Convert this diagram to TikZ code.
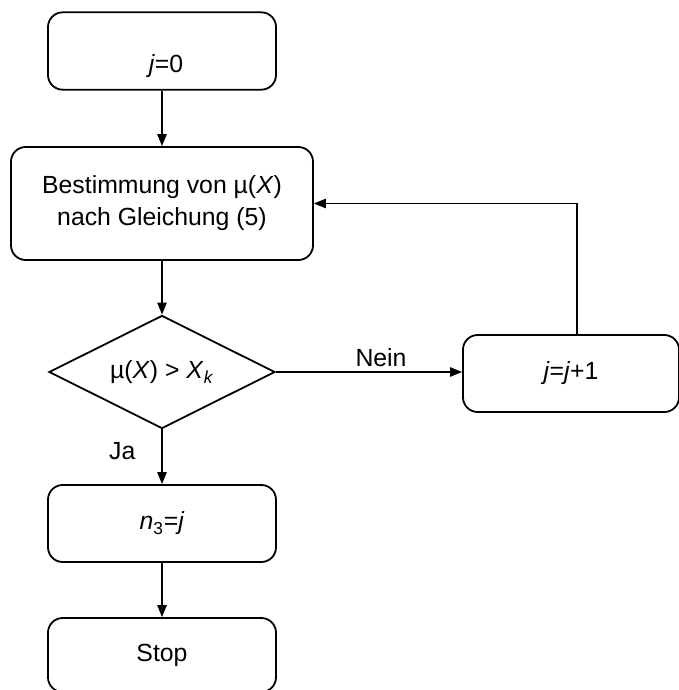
\documentclass[tikz,border=0pt]{standalone}
\usepackage{fontspec}
\setmainfont{Liberation Sans}
\usetikzlibrary{shapes.geometric,arrows.meta,positioning}
\tikzset{
  blk/.style={draw, rounded corners=11pt, line width=1.35pt, align=center, inner sep=0pt, minimum width=171pt, minimum height=58pt},
  dec/.style={draw, diamond, line width=1.35pt, inner sep=0pt, minimum width=169.5pt, minimum height=84.75pt},
  arr/.style={line width=1.2pt, -{Triangle[length=9pt,width=7pt]}},
  lbl/.style={inner sep=0pt}
}

\begin{document}
\begin{tikzpicture}[x=0.75pt,y=-0.75pt,font=\fontsize{18.6}{24}\selectfont]
  \useasboundingbox (0,0) rectangle (679,690);
  \node[blk, text height=32pt, text depth=0pt] (start) at (162,51) {\hspace{6pt}\textit{j}=0};
		\node[blk, minimum width=226.5pt, minimum height=84.75pt] (calc) at (162,203.5) {Bestimmung von µ(\textit{X})\\nach Gleichung (5)};
		\node[dec] (test) at (162,372) {\makebox[0pt]{µ(\textit{X}) > \textit{X}\textsubscript{\textit{k}}}};
		\node[blk, minimum width=162pt, minimum height=57.75pt] (inc) at (571,373.5) {\textit{j}=\textit{j}+1};
		\node[blk, minimum height=57.75pt] (res) at (162,523.5) {\textit{n}\textsubscript{3}=\textit{j}};
		\node[blk, minimum height=55.5pt] (stop) at (162,655) {Stop};
		\draw[arr] (start) -- (calc);
		\draw[arr] (calc) -- (test);
		\draw[arr] (test.east) -- node[above, xshift=9pt]{Nein} (test.east -| inc.west);
		\draw[arr] ([xshift=4.5pt]inc.north) |- (calc.east);
		\draw[arr] (test) -- node[pos=0.4, left, xshift=-16pt]{Ja} (res);
		\draw[arr] (res) -- (stop);
              \end{tikzpicture}
\end{document}
